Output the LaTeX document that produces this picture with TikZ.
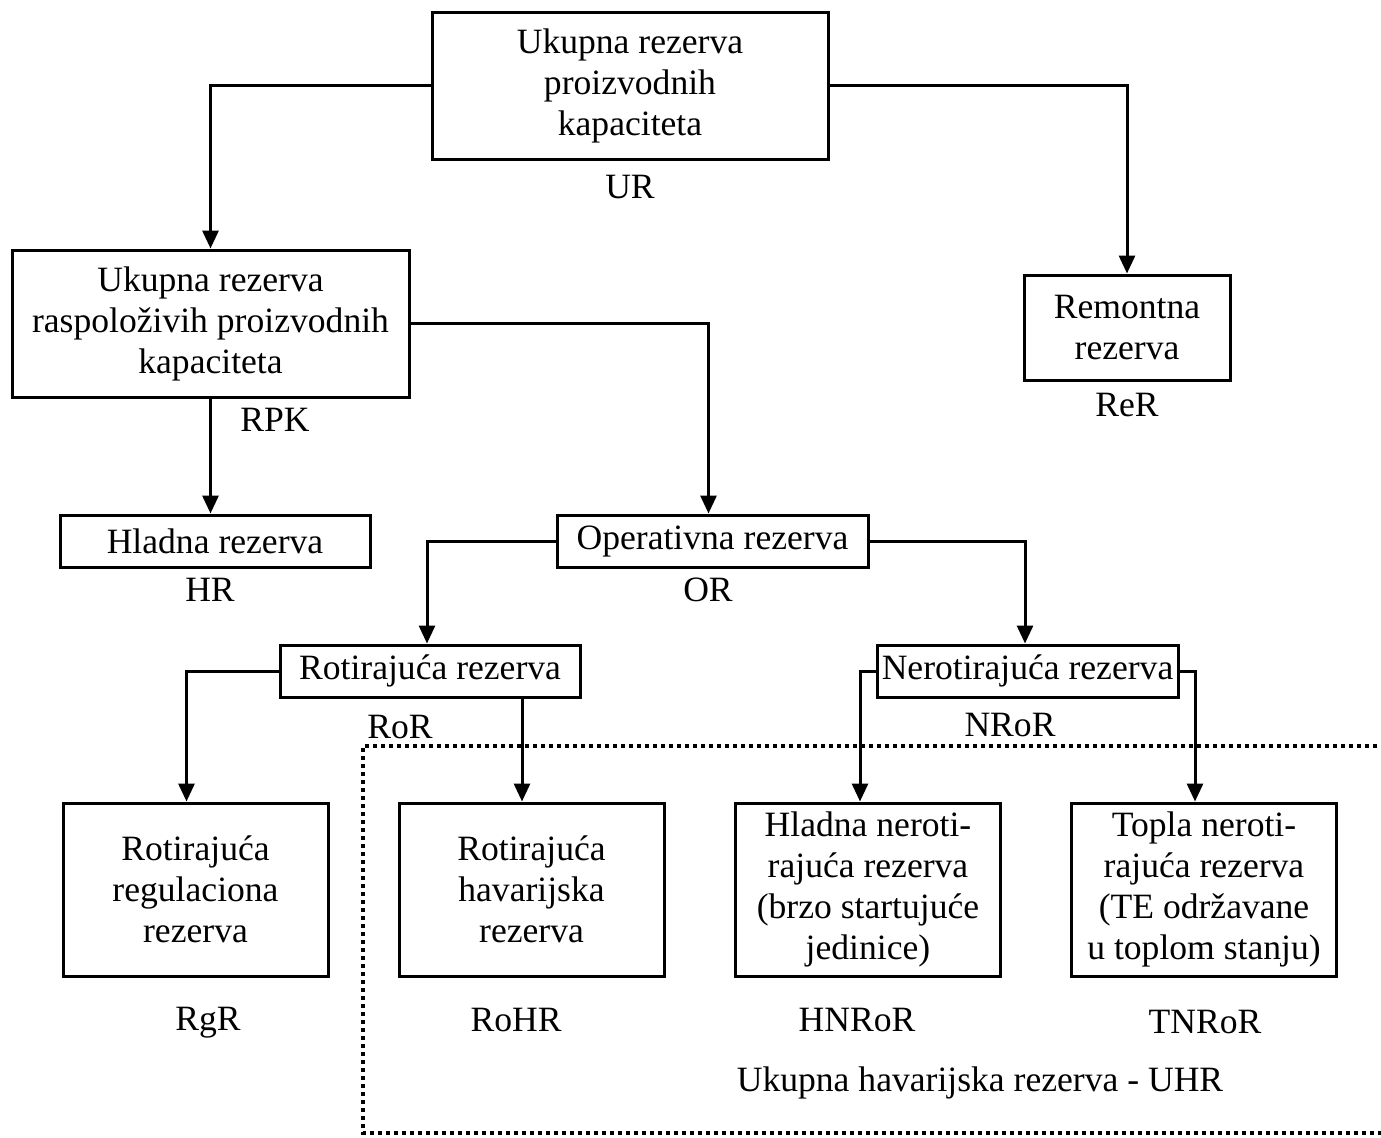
\documentclass[tikz,border=0pt]{standalone}
\usepackage{fontspec}
\setmainfont{Liberation Serif}
\usetikzlibrary{arrows.meta}
\tikzstyle{box} = [draw, line width=1.5pt, align=center, inner sep=1pt, font=\fontsize{17.8}{20.5}\selectfont]
\tikzstyle{lbl} = [inner sep=0pt, font=\fontsize{17.8}{20.5}\selectfont]
\tikzstyle{arr} = [line width=1.5pt, -{Triangle[length=9pt,width=8pt]}]

\begin{document}
\begin{tikzpicture}[x=0.5pt,y=-0.5pt]
\useasboundingbox (0,0) rectangle (1381,1137);

% upper levels
\node[box, minimum width=198pt, minimum height=73.5pt] (ur) at (630,85.5) {Ukupna rezerva\\proizvodnih\\kapaciteta};
\node[lbl] (urL) at (630,187) {UR};
\node[box, minimum width=198.5pt, minimum height=73.5pt] (rpk) at (210.5,323.5) {Ukupna rezerva\\raspoloživih proizvodnih\\kapaciteta};
\node[lbl] (rpkL) at (275,420) {RPK};
\node[box, minimum width=103pt, minimum height=52.5pt] (rer) at (1127,327.5) {Remontna\\rezerva};
\node[lbl] (rerL) at (1127,405) {ReR};

\node[box, minimum width=155pt, minimum height=26pt] (hr) at (215,541) {Hladna rezerva};
\node[lbl] (hrL) at (210,590) {HR};
\node[box, minimum width=155.5pt, minimum height=26pt] (or) at (712.5,541) {Operativna rezerva};
\node[lbl] (orL) at (708,590) {OR};

\node[box, minimum width=150pt, minimum height=26pt] (ror) at (430,671) {Rotirajuća rezerva};
\node[lbl] (rorL) at (400,727) {RoR};
\node[box, minimum width=150.5pt, minimum height=26pt] (nror) at (1027.5,671) {Nerotirajuća rezerva};
\node[lbl] (nrorL) at (1010,725) {NRoR};

% bottom level
\node[box, minimum width=132.5pt, minimum height=86.5pt] (rgr) at (195.5,889.5) {Rotirajuća\\regulaciona\\rezerva};
\node[lbl] (rgrL) at (208,1023) {RgR};
\node[box, minimum width=132.5pt, minimum height=86.5pt] (rohr) at (531.5,889.5) {Rotirajuća\\havarijska\\rezerva};
\node[lbl] (rohrL) at (516,1020) {RoHR};
\node[box, minimum width=132.5pt, minimum height=86.5pt] (hnror) at (868,889.5) {Hladna neroti-\\rajuća rezerva\\(brzo startujuće\\jedinice)};
\node[lbl] (hnrorL) at (857,1020) {HNRoR};
\node[box, minimum width=132.5pt, minimum height=86.5pt] (tnror) at (1204,889.5) {Topla neroti-\\rajuća rezerva\\(TE održavane\\u toplom stanju)};
\node[lbl] (tnrorL) at (1205,1022) {TNRoR};

\node[lbl] (uhr) at (980,1083) {Ukupna havarijska rezerva - UHR};

% emergency reserve frame
\draw[line width=2pt, dash pattern=on 2pt off 2pt] (1385,746) -- (363,746) -- (363,1133) -- (1385,1133);

% connectors
\draw[arr] (ur.west) -| (rpk.north);
\draw[arr] (ur.east) -| (rer.north);
\draw[arr] (rpk.east) -| ([xshift=-2pt]or.north);
\draw[arr] (rpk.south) -- (rpk.south |- hr.north);
\draw[arr] (or.west) -| ([xshift=-1.5pt]ror.north);
\draw[arr] (or.east) -| ([xshift=-1.25pt]nror.north);
\draw[arr] (ror.west) -| ([xshift=-4.5pt]rgr.north);
\draw[arr] ([xshift=-4.75pt]rohr.north |- ror.south) -- ([xshift=-4.75pt]rohr.north);
\draw[arr] (nror.west) -| ([xshift=-4pt]hnror.north);
\draw[arr] (nror.east) -| ([xshift=-4.5pt]tnror.north);

\end{tikzpicture}
\end{document}
